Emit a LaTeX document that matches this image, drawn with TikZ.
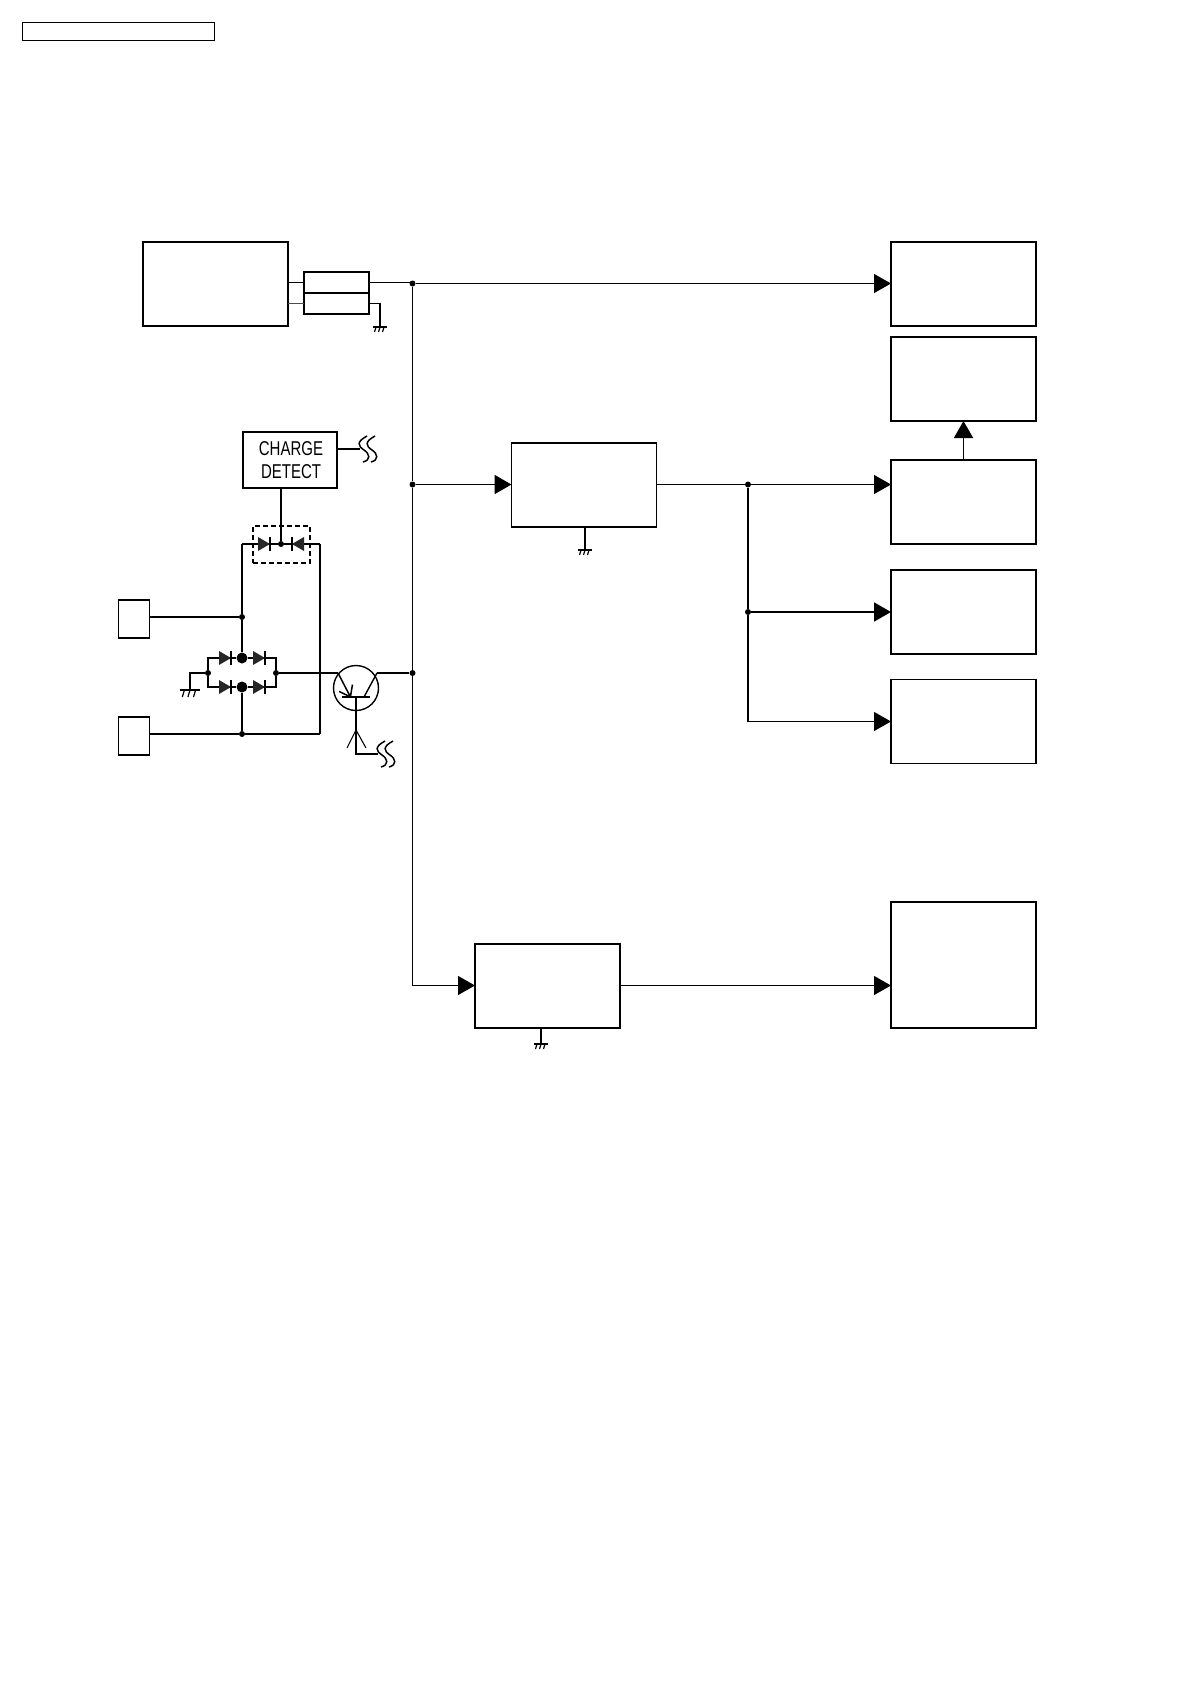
\documentclass[tikz,border=0pt]{standalone}
\usepackage{xcolor}
\usepackage{fontspec}
\newfontfamily\labelfont[FakeStretch=0.75]{Liberation Sans}
\usetikzlibrary{arrows.meta}
\tikzset{
  blockbox/.style 2 args={draw,line width=1.4pt,inner sep=0pt,outer sep=0pt,minimum width=#1pt,minimum height=#2pt},
  junc/.style={circle,fill=black,inner sep=0pt,minimum size=6pt},
  bigjunc/.style={circle,fill=black,inner sep=0pt,minimum size=11pt},
  wire/.style={line width=1.1pt},
  thickwire/.style={line width=1.8pt},
  feed/.style={line width=1.1pt,-{Triangle[length=17pt,width=19pt]}},
  thickfeed/.style={line width=1.8pt,-{Triangle[length=17pt,width=19pt]}},
  diode/.pic={
    \fill[black!85] (-6,-7) -- (6,0) -- (-6,7) -- cycle;
    \draw[line width=1.4pt] (6,-7) -- (6,7);
  },
  earth/.pic={
    \draw[line width=1.2pt] (-7,0) -- (7,0);
    \draw[line width=1.2pt] (-4,0) -- (-5.5,5) (0,0) -- (-1.5,5) (4,0) -- (2.5,5);
  },
  heat/.pic={
    \draw[line width=1.5pt] (7,-13) .. controls (-4,-7) and (-2,-3) .. (4,1) .. controls (10,5) and (11,11) .. (3,13);
    \draw[line width=1.5pt] (15,-13) .. controls (4,-7) and (6,-3) .. (12,1) .. controls (18,5) and (19,11) .. (11,13);
  }
}
\begin{document}
\begin{tikzpicture}[x=1pt,y=-1pt]
  \useasboundingbox (0,0) rectangle (1190,1684);
  % Title frame
  \node[blockbox={192}{18},line width=1pt] (titlebox) at (118,31) {};

  % Left side blocks
  \node[blockbox={145}{84},line width=1.6pt] (battbox) at (215.5,284) {};
  \node[blockbox={65}{21}] (fuseA) at (336.5,282.5) {};
  \node[blockbox={65}{21}] (fuseB) at (336.5,303.5) {};
  \node[blockbox={94}{56},line width=1.1pt,align=center,font=\labelfont\fontsize{20}{23}\selectfont] (chargebox) at (290,460) {\hspace*{2pt}CHARGE\\\hspace*{2pt}DETECT};
  \node[blockbox={31}{38},line width=1.1pt] (jackA) at (134,619) {};
  \node[blockbox={31}{38},line width=1.5pt] (jackB) at (134,736) {};

  % Middle blocks
  \node[blockbox={145}{84}] (regA) at (584,485) {};
  \node[blockbox={145}{84}] (regB) at (547.5,986) {};

  % Right column
  \node[blockbox={145}{84}] (outA) at (963.5,284) {};
  \node[blockbox={145}{84}] (outB) at (963.5,379) {};
  \node[blockbox={145}{84}] (outC) at (963.5,502) {};
  \node[blockbox={145}{84},line width=1.6pt] (outD) at (963.5,612) {};
  \node[blockbox={145}{84}] (outE) at (963.5,721.5) {};
  \node[blockbox={145}{126}] (outF) at (963.5,965) {};

  % Junctions on the supply rail
  \node[junc] (railA) at (412.5,283.5) {};
  \node[junc] (railB) at (412.5,484.5) {};
  \node[junc] (railC) at (412.5,673) {};
  \coordinate (railD) at (412.5,985.5);
  \node[junc] (splitA) at (748,484.5) {};
  \node[junc] (splitB) at (748,612) {};
  \coordinate (splitC) at (748,721.5);
  \coordinate (stubE) at (673,484.5);

  % Supply rail and feeds
  \draw[wire] (railA) -- (railB) -- (railC) -- (railD);
  \draw[feed] (railA) -- (railA -| outA.west);
  \draw[thickfeed] (railB) -- (railB -| regA.west);
  \draw[feed] (railD) -- (railD -| regB.west);
  \draw[feed] (regB.east |- railD) -- (railD -| outF.west);
  \draw[thickwire] (regA.east |- stubE) -- (stubE);
  \draw[wire] (stubE) -- (splitA);
  \draw[feed] (splitA) -- (splitA -| outC.west);
  \draw[thickwire] (splitA) -- (splitB) -- (splitC);
  \draw[thickfeed] (splitB) -- (splitB -| outD.west);
  \draw[feed] (splitC) -- (splitC -| outE.west);
  \draw[thickfeed] (outC.north) -- (outB.south);

  % Battery and fuses
  \draw[wire] (battbox.east |- fuseA) -- (fuseA.west);
  \draw[thickwire,black!70] (battbox.east |- fuseB) -- (fuseB.west);
  \draw[wire] (fuseA.east) -- (fuseA.east -| railA);
  \coordinate (earthA) at (380,327);
  \draw[wire] (fuseB.east) -| (earthA);
  \pic at (earthA) {earth};

  % Earths under the regulators
  \coordinate (earthB) at (585,550);
  \coordinate (earthC) at (541,1044);
  \draw[wire] (earthB |- regA.south) -- (earthB);
  \draw[wire] (earthC |- regB.south) -- (earthC);
  \pic at (earthB) {earth};
  \pic at (earthC) {earth};

  % Charge detect diodes
  \node[draw,dash pattern=on 5pt off 3pt,line width=1.2pt,inner sep=0pt,minimum width=57pt,minimum height=37pt] (dashbox) at (281.5,544.5) {};
  \node[junc] (detdot) at (281,544) {};
  \coordinate (detL) at (242,544);
  \coordinate (detR) at (320,544);
  \draw[thickwire] (detL) -- (detdot) -- (detR);
  \draw[wire] (detdot |- chargebox.south) -- (detdot);
  \pic at (264,544) {diode};
  \pic[rotate=180] at (298,544) {diode};
  \coordinate (heatA) at (360,449);
  \draw[wire] (chargebox.east |- heatA) -- (heatA);
  \pic at (heatA) {heat};

  % Diode bridge
  \node[junc] (jackAdot) at (242,617) {};
  \node[junc] (jackBdot) at (242,734) {};
  \node[bigjunc] (bridgeT) at (242,658) {};
  \node[bigjunc] (bridgeB) at (242,687) {};
  \node[junc] (bridgeL) at (208,673) {};
  \node[junc] (bridgeR) at (276,673) {};
  \draw[thickwire] (detL) -- (jackAdot) -- (bridgeT);
  \draw[thickwire] (bridgeB) -- (jackBdot);
  \draw[thickwire] (jackA.east |- jackAdot) -- (jackAdot);
  \draw[thickwire] (jackB.east |- jackBdot) -- (jackBdot);
  \draw[thickwire] (jackBdot) -- (jackBdot -| detR);
  \draw[wire] (jackBdot -| detR) -- (detR);
  \draw[wire] (bridgeL) |- (bridgeT) -| (bridgeR);
  \draw[wire] (bridgeL) |- (bridgeB) -| (bridgeR);
  \pic at (225,658) {diode};
  \pic at (259,658) {diode};
  \pic at (225,687) {diode};
  \pic at (259,687) {diode};
  \coordinate (earthD) at (190,690);
  \draw[wire] (bridgeL) -| (earthD);
  \pic[scale=1.4] at (earthD) {earth};

  % Phototransistor
  \node[draw,circle,line width=1.4pt,inner sep=0pt,minimum size=45pt] (photo) at (356,688) {};
  \coordinate (emitS) at (338,673);
  \coordinate (emitE) at (351,698);
  \coordinate (collS) at (377,673);
  \coordinate (collE) at (364,697);
  \coordinate (baseL) at (342,697);
  \coordinate (baseR) at (370,697);
  \coordinate (baseM) at (356,697);
  \coordinate (stemE) at (356,754);
  \coordinate (heatB) at (378,754);
  \draw[thickwire] (bridgeR) -- (emitS);
  \draw[line width=1.5pt,-{Straight Barb[length=10pt,width=15pt]}] (emitS) -- (emitE);
  \draw[line width=1.4pt] (collS) -- (collE);
  \draw[thickwire] (collS) -- (railC);
  \draw[thickwire] (baseL) -- (baseR);
  \draw[wire] (baseM) -- (stemE) -- (heatB);
  \draw[wire] (347,748) -- (356,730) -- (366,748);
  \pic at (heatB) {heat};
\end{tikzpicture}
\end{document}
